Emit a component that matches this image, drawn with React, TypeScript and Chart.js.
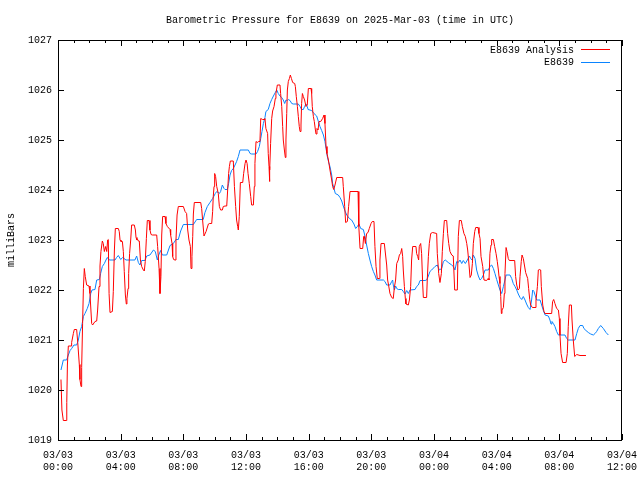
import React, { useEffect, useRef } from "react";
import { Chart, registerables } from "chart.js";

Chart.register(...registerables);

const TITLE = "Barometric Pressure for E8639 on 2025-Mar-03 (time in UTC)";
const Y_LABEL = "milliBars";
const FONT = "'Liberation Mono', 'DejaVu Sans Mono', monospace";

// hours since 03/03 00:00 UTC
const analysisHours = [
  0.19, 0.25, 0.34, 0.55, 0.56, 0.6, 0.66, 0.83, 0.87, 0.98, 1.04, 1.19, 1.26, 1.36, 1.4, 1.47, 1.51, 1.57, 1.62, 1.68,
  1.74, 1.83, 1.98, 2.04, 2.15, 2.21, 2.36, 2.47, 2.53, 2.62, 2.68, 2.74, 2.83, 2.89, 2.96, 3.04, 3.11, 3.17, 3.21, 3.26,
  3.32, 3.47, 3.53, 3.6, 3.66, 3.85, 3.91, 3.96, 4.02, 4.11, 4.17, 4.23, 4.3, 4.36, 4.4, 4.47, 4.51, 4.57, 4.64, 4.7,
  4.87, 4.94, 4.98, 5.04, 5.09, 5.13, 5.19, 5.26, 5.34, 5.45, 5.51, 5.57, 5.64, 5.7, 5.81, 5.87, 5.94, 6.02, 6.3, 6.36,
  6.45, 6.51, 6.57, 6.62, 6.68, 6.83, 6.89, 6.98, 7.15, 7.19, 7.28, 7.32, 7.38, 7.47, 7.53, 7.6, 7.68, 8.0, 8.11, 8.21,
  8.28, 8.36, 8.45, 8.49, 8.55, 8.6, 8.64, 8.7, 9.11, 9.17, 9.23, 9.32, 9.45, 9.6, 9.66, 9.81, 9.87, 9.91, 9.96, 10.0,
  10.06, 10.13, 10.23, 10.3, 10.38, 10.49, 10.55, 10.66, 10.77, 10.83, 10.89, 10.94, 11.0, 11.19, 11.26, 11.34, 11.4, 11.47, 11.51, 11.57,
  11.64, 11.79, 11.85, 11.94, 12.0, 12.07, 12.13, 12.21, 12.3, 12.36, 12.47, 12.53, 12.57, 12.64, 12.72, 12.81, 12.89, 12.94, 13.06, 13.15,
  13.21, 13.27, 13.38, 13.42, 13.47, 13.49, 13.53, 13.57, 13.64, 13.7, 13.79, 13.87, 13.91, 14.0, 14.17, 14.21, 14.28, 14.34, 14.38, 14.45,
  14.51, 14.55, 14.6, 14.64, 14.7, 14.77, 14.83, 14.9, 14.98, 15.11, 15.15, 15.21, 15.28, 15.34, 15.4, 15.45, 15.51, 15.55, 15.6, 15.66,
  15.74, 15.83, 15.91, 15.98, 16.15, 16.19, 16.23, 16.3, 16.36, 16.43, 16.47, 16.53, 16.6, 16.66, 16.77, 16.83, 16.89, 16.98, 17.04, 17.11,
  17.17, 17.26, 17.36, 17.47, 17.53, 17.6, 17.68, 17.79, 18.17, 18.21, 18.3, 18.36, 18.47, 18.55, 18.64, 19.15, 19.19, 19.21, 19.28, 19.45,
  19.51, 19.55, 19.62, 19.7, 19.79, 19.87, 19.98, 20.06, 20.17, 20.23, 20.3, 20.38, 20.51, 20.55, 20.62, 20.83, 20.91, 20.98, 21.04, 21.11,
  21.19, 21.3, 21.4, 21.47, 21.55, 21.62, 21.72, 21.79, 21.87, 21.94, 22.0, 22.04, 22.11, 22.17, 22.21, 22.36, 22.43, 22.51, 22.57, 22.64,
  22.85, 22.89, 22.96, 23.02, 23.06, 23.15, 23.21, 23.28, 23.32, 23.53, 23.57, 23.64, 23.7, 23.79, 23.91, 24.17, 24.21, 24.3, 24.38, 24.47,
  24.53, 24.6, 24.66, 24.81, 24.87, 24.94, 25.02, 25.13, 25.23, 25.32, 25.49, 25.55, 25.62, 25.74, 25.81, 25.91, 26.0, 26.09, 26.15, 26.21,
  26.3, 26.38, 26.45, 26.51, 26.6, 26.66, 26.81, 26.87, 26.94, 27.0, 27.11, 27.19, 27.36, 27.45, 27.51, 27.57, 27.64, 27.68, 27.79, 27.87,
  27.96, 28.04, 28.11, 28.15, 28.21, 28.26, 28.3, 28.34, 28.43, 28.49, 28.53, 28.6, 28.66, 28.74, 28.81, 29.15, 29.21, 29.28, 29.36, 29.45,
  29.49, 29.57, 29.62, 29.7, 29.77, 29.85, 29.98, 30.04, 30.11, 30.17, 30.28, 30.45, 30.51, 30.6, 30.66, 30.72, 30.81, 30.85, 30.94, 31.02,
  31.09, 31.51, 31.57, 31.64, 31.72, 31.83, 31.94, 32.0, 32.04, 32.11, 32.21, 32.43, 32.51, 32.57, 32.64, 32.77, 32.81, 32.89, 32.98, 33.11,
  33.32, 33.7,
];

const analysisValues = [
  1020.21, 1019.6, 1019.39, 1019.39, 1019.75, 1020.5, 1020.88, 1020.88, 1020.95, 1021.13, 1021.21, 1021.21, 1020.95, 1020.51, 1020.21, 1020.07, 1020.45, 1021.33, 1022.03, 1022.43,
  1022.27, 1022.1, 1022.08, 1021.93, 1021.33, 1021.3, 1021.37, 1021.38, 1021.6, 1022.07, 1022.48, 1022.77, 1022.98, 1022.93, 1022.77, 1022.87, 1022.77, 1023.0, 1023.01, 1021.93,
  1021.55, 1021.57, 1021.97, 1022.8, 1023.23, 1023.23, 1023.17, 1023.0, 1022.97, 1022.97, 1022.77, 1022.37, 1021.9, 1021.72, 1021.83, 1022.03, 1022.33, 1022.73, 1023.0, 1023.3,
  1023.3, 1023.2, 1023.05, 1023.0, 1023.01, 1022.98, 1022.98, 1022.6, 1022.47, 1022.4, 1022.38, 1022.57, 1023.03, 1023.39, 1023.39, 1023.2, 1023.11, 1023.1, 1023.1, 1022.87,
  1022.43, 1021.93, 1022.27, 1023.1, 1023.47, 1023.47, 1023.33, 1023.27, 1023.21, 1023.1, 1022.93, 1022.67, 1022.61, 1022.6, 1023.0, 1023.5, 1023.67, 1023.67, 1023.57, 1023.53,
  1023.2, 1023.0, 1022.87, 1022.43, 1022.67, 1023.07, 1023.52, 1023.75, 1023.75, 1023.63, 1023.4, 1023.08, 1023.17, 1023.32, 1023.33, 1023.33, 1023.57, 1023.87, 1024.07, 1024.33,
  1024.27, 1024.07, 1023.93, 1023.67, 1023.6, 1023.6, 1023.67, 1023.68, 1023.68, 1024.0, 1024.33, 1024.47, 1024.58, 1024.58, 1024.07, 1023.67, 1023.4, 1023.27, 1023.2, 1023.47,
  1024.15, 1024.15, 1024.33, 1024.53, 1024.6, 1024.53, 1024.33, 1024.13, 1023.87, 1023.7, 1023.7, 1024.07, 1024.53, 1024.97, 1024.95, 1024.97, 1024.97, 1025.43, 1025.41, 1025.41,
  1025.43, 1025.23, 1025.13, 1024.73, 1024.47, 1024.17, 1024.4, 1024.93, 1025.43, 1025.58, 1025.67, 1025.83, 1025.93, 1026.1, 1026.1, 1025.93, 1025.67, 1025.27, 1025.0, 1024.8,
  1024.65, 1025.0, 1025.53, 1026.0, 1026.17, 1026.23, 1026.3, 1026.23, 1026.15, 1026.13, 1026.07, 1025.87, 1025.67, 1025.47, 1025.27, 1025.17, 1025.3, 1025.73, 1025.93, 1025.87,
  1025.8, 1025.67, 1025.7, 1026.03, 1026.03, 1025.93, 1025.67, 1025.47, 1025.37, 1025.2, 1025.12, 1025.23, 1025.2, 1025.37, 1025.37, 1025.4, 1025.43, 1025.5, 1025.33, 1024.87,
  1024.73, 1024.6, 1024.4, 1024.2, 1024.07, 1024.01, 1024.1, 1024.25, 1024.25, 1024.07, 1023.67, 1023.35, 1023.37, 1023.67, 1023.97, 1023.97, 1023.67, 1023.27, 1022.83, 1022.83,
  1023.07, 1023.08, 1022.93, 1023.13, 1023.15, 1023.23, 1023.33, 1023.37, 1023.37, 1022.87, 1022.47, 1022.23, 1022.23, 1022.6, 1022.93, 1022.93, 1022.7, 1022.5, 1022.2, 1022.08,
  1021.93, 1021.85, 1021.83, 1022.05, 1022.2, 1022.53, 1022.6, 1022.7, 1022.73, 1022.83, 1022.67, 1022.4, 1022.07, 1021.83, 1021.72, 1021.7, 1021.8, 1022.07, 1022.6, 1022.87,
  1022.87, 1022.73, 1022.67, 1022.6, 1022.87, 1022.93, 1022.73, 1022.1, 1021.85, 1021.85, 1022.2, 1022.67, 1022.93, 1023.13, 1023.15, 1023.13, 1022.73, 1022.33, 1022.15, 1022.33,
  1022.77, 1023.13, 1023.39, 1023.39, 1023.13, 1022.93, 1022.77, 1022.7, 1022.68, 1022.0, 1022.0, 1023.07, 1023.39, 1023.39, 1023.27, 1023.13, 1023.07, 1022.93, 1022.8, 1022.6,
  1022.25, 1022.3, 1022.53, 1022.93, 1023.17, 1023.25, 1023.25, 1023.13, 1023.03, 1022.67, 1022.47, 1022.2, 1022.19, 1022.23, 1022.2, 1022.73, 1022.9, 1023.01, 1023.01, 1022.87,
  1022.73, 1022.57, 1022.4, 1022.27, 1022.13, 1021.87, 1021.53, 1021.6, 1021.65, 1021.93, 1022.33, 1022.85, 1022.77, 1022.63, 1022.59, 1022.59, 1022.27, 1022.1, 1022.0, 1022.03,
  1022.27, 1022.57, 1022.7, 1022.63, 1022.5, 1022.35, 1022.23, 1022.03, 1021.81, 1021.7, 1021.65, 1021.65, 1021.8, 1022.07, 1022.4, 1022.41, 1022.4, 1022.07, 1021.7, 1021.57,
  1021.53, 1021.53, 1021.77, 1021.81, 1021.73, 1021.63, 1021.6, 1021.43, 1021.1, 1020.73, 1020.55, 1020.55, 1020.73, 1021.27, 1021.7, 1021.7, 1021.4, 1021.0, 1020.67, 1020.71,
  1020.69, 1020.69,
];

const observedHours = [
  0.19, 0.34, 0.55, 0.66, 0.77, 0.87, 1.02, 1.19, 1.3, 1.4, 1.51, 1.62, 1.72, 1.87, 1.98, 2.09, 2.17, 2.36, 2.47, 2.64,
  2.72, 2.83, 2.96, 3.06, 3.15, 3.28, 3.64, 3.74, 3.85, 4.0, 4.13, 4.34, 4.91, 5.02, 5.13, 5.23, 5.34, 5.55, 5.66, 5.87,
  6.09, 6.21, 6.34, 6.43, 6.55, 6.66, 6.94, 7.15, 7.36, 7.53, 7.68, 7.83, 8.0, 8.64, 8.85, 9.27, 9.38, 9.53, 9.7, 9.87,
  10.04, 10.13, 10.23, 10.3, 10.38, 10.49, 10.6, 10.66, 10.81, 10.89, 10.98, 11.08, 11.19, 11.3, 11.4, 11.51, 11.62, 12.15, 12.26, 12.36,
  12.64, 12.74, 12.85, 12.94, 13.02, 13.11, 13.21, 13.27, 13.42, 13.53, 13.64, 13.75, 13.87, 13.96, 14.06, 14.17, 14.28, 14.38, 14.47, 14.55,
  14.64, 14.7, 14.81, 14.92, 15.02, 15.34, 15.45, 15.55, 15.66, 15.74, 15.83, 15.91, 15.96, 16.19, 16.34, 16.51, 16.62, 16.72, 16.83, 16.94,
  17.04, 17.11, 17.19, 17.28, 17.36, 17.47, 17.53, 17.62, 17.7, 17.89, 18.0, 18.11, 18.21, 18.32, 18.43, 18.6, 18.74, 18.89, 19.0, 19.11,
  19.21, 19.32, 19.49, 19.6, 19.7, 19.81, 19.91, 20.02, 20.13, 20.23, 20.34, 20.77, 20.87, 20.98, 21.19, 21.3, 21.36, 21.4, 21.47, 21.55,
  21.62, 21.72, 21.94, 22.04, 22.15, 22.26, 22.36, 22.47, 22.79, 22.89, 23.0, 23.11, 23.43, 23.53, 23.64, 23.74, 23.85, 24.06, 24.21, 24.34,
  24.49, 24.6, 24.72, 24.91, 25.13, 25.23, 25.34, 25.45, 25.55, 25.66, 25.77, 25.87, 26.0, 26.13, 26.26, 26.34, 26.43, 26.51, 26.62, 26.72,
  26.83, 26.94, 27.04, 27.15, 27.26, 27.47, 27.57, 27.68, 27.79, 27.89, 28.0, 28.11, 28.21, 28.32, 28.43, 28.53, 28.6, 28.85, 28.96, 29.06,
  29.17, 29.28, 29.38, 29.49, 29.6, 29.7, 29.81, 29.91, 30.02, 30.13, 30.23, 30.3, 30.38, 30.45, 30.55, 30.77, 30.87, 30.98, 31.09, 31.3,
  31.4, 31.47, 31.53, 31.62, 31.72, 31.83, 31.94, 32.36, 32.47, 32.57, 33.0, 33.11, 33.21, 33.32, 33.49, 33.57, 33.7, 33.85, 34.0, 34.17,
  34.28, 34.38, 34.49, 34.64, 34.81, 34.98, 35.13,
];

const observedValues = [
  1020.4, 1020.6, 1020.6, 1020.7, 1020.79, 1020.83, 1020.9, 1020.9, 1021.0, 1021.17, 1021.27, 1021.47, 1021.53, 1021.63, 1021.73, 1021.93, 1022.0, 1022.01, 1022.2, 1022.21,
  1022.33, 1022.47, 1022.53, 1022.6, 1022.65, 1022.6, 1022.6, 1022.65, 1022.69, 1022.61, 1022.65, 1022.6, 1022.6, 1022.68, 1022.55, 1022.5, 1022.59, 1022.59, 1022.68, 1022.7,
  1022.8, 1022.77, 1022.6, 1022.7, 1022.79, 1022.7, 1022.7, 1022.89, 1022.93, 1023.01, 1023.01, 1023.18, 1023.31, 1023.31, 1023.41, 1023.41, 1023.55, 1023.67, 1023.75, 1023.83,
  1023.93, 1023.97, 1023.95, 1023.93, 1023.97, 1024.1, 1024.03, 1024.01, 1024.01, 1024.13, 1024.3, 1024.39, 1024.43, 1024.5, 1024.57, 1024.67, 1024.8, 1024.8, 1024.73, 1024.72,
  1024.72, 1024.77, 1024.87, 1025.03, 1025.17, 1025.33, 1025.45, 1025.57, 1025.61, 1025.73, 1025.81, 1025.88, 1025.95, 1026.0, 1025.93, 1025.88, 1025.85, 1025.8, 1025.73, 1025.8,
  1025.79, 1025.81, 1025.79, 1025.73, 1025.72, 1025.72, 1025.67, 1025.61, 1025.61, 1025.67, 1025.72, 1025.67, 1025.61, 1025.59, 1025.53, 1025.48, 1025.37, 1025.27, 1025.19, 1025.1,
  1024.97, 1024.83, 1024.67, 1024.55, 1024.47, 1024.3, 1024.13, 1024.03, 1023.93, 1023.9, 1023.85, 1023.78, 1023.68, 1023.58, 1023.5, 1023.43, 1023.4, 1023.32, 1023.23, 1023.27,
  1023.32, 1023.23, 1023.21, 1023.07, 1022.9, 1022.73, 1022.6, 1022.47, 1022.37, 1022.3, 1022.2, 1022.2, 1022.17, 1022.1, 1022.1, 1022.17, 1022.2, 1022.1, 1022.0, 1022.08,
  1022.03, 1022.01, 1022.01, 1021.97, 1021.92, 1021.99, 1021.93, 1022.0, 1022.01, 1022.07, 1022.1, 1022.19, 1022.19, 1022.2, 1022.28, 1022.37, 1022.4, 1022.47, 1022.5, 1022.4,
  1022.43, 1022.57, 1022.6, 1022.55, 1022.5, 1022.47, 1022.4, 1022.57, 1022.55, 1022.6, 1022.53, 1022.59, 1022.53, 1022.6, 1022.68, 1022.63, 1022.6, 1022.7, 1022.63, 1022.4,
  1022.28, 1022.2, 1022.23, 1022.3, 1022.4, 1022.4, 1022.47, 1022.5, 1022.43, 1022.33, 1022.21, 1022.1, 1022.0, 1021.93, 1022.07, 1022.2, 1022.3, 1022.3, 1022.23, 1022.13,
  1022.07, 1022.0, 1021.92, 1021.85, 1021.81, 1021.87, 1021.8, 1021.72, 1021.65, 1021.61, 1021.8, 1022.0, 1021.97, 1021.9, 1021.8, 1021.8, 1021.7, 1021.59, 1021.5, 1021.48,
  1021.4, 1021.32, 1021.37, 1021.33, 1021.27, 1021.17, 1021.1, 1021.1, 1021.03, 1021.0, 1021.0, 1021.13, 1021.23, 1021.29, 1021.29, 1021.23, 1021.19, 1021.15, 1021.12, 1021.1,
  1021.13, 1021.17, 1021.23, 1021.29, 1021.23, 1021.15, 1021.1,
];

const seriesLabels = ["E8639 Analysis", "E8639"];
const seriesColors = ["#ff0000", "#0a84ff"];

const X_MIN = 0;
const X_MAX = 36;
const X_STEP = 4;
const Y_MIN = 1019;
const Y_MAX = 1027;
const Y_STEP = 1;
const dayLabels = ["03/03", "03/04"];

function hourLabel(h: number): string[] {
  const day = dayLabels[Math.floor(h / 24)] ?? "";
  const hh = String(Math.round(h) % 24).padStart(2, "0");
  return [day, `${hh}:00`];
}

const framePlugin = {
  id: "gnuFrame",
  afterDraw(chart: any) {
    const { ctx, chartArea } = chart;
    const { left, right, top, bottom } = chartArea;
    const xs = chart.scales.x;
    const ys = chart.scales.y;
    ctx.save();
    ctx.strokeStyle = "#000";
    ctx.lineWidth = 1;
    ctx.beginPath();
    // inward ticks on x (major every 4h, minor every hour)
    for (let h = X_MIN; h <= X_MAX; h += 1) {
      const px = Math.round(xs.getPixelForValue(h)) + 0.5;
      const len = h % X_STEP === 0 ? 6 : 3;
      ctx.moveTo(px, bottom);
      ctx.lineTo(px, bottom - len);
      ctx.moveTo(px, top);
      ctx.lineTo(px, top + len);
    }
    for (let v = Y_MIN; v <= Y_MAX; v += Y_STEP) {
      const py = Math.round(ys.getPixelForValue(v)) + 0.5;
      ctx.moveTo(left, py);
      ctx.lineTo(left + 6, py);
      ctx.moveTo(right, py);
      ctx.lineTo(right - 6, py);
    }
    ctx.stroke();
    ctx.strokeRect(Math.round(left) + 0.5, Math.round(top) + 0.5, Math.round(right - left) - 1, Math.round(bottom - top));

    ctx.fillStyle = "#000";
    ctx.font = `10px ${FONT}`;
    ctx.textBaseline = "middle";
    ctx.textAlign = "center";
    ctx.fillText(TITLE, (left + right) / 2, 20);

    // legend (top right, inside)
    ctx.textAlign = "right";
    chart.data.datasets.forEach((ds: any, i: number) => {
      const y = 50 + i * 12.5;
      ctx.fillStyle = "#000";
      ctx.fillText(ds.label, right - 48, y);
      ctx.strokeStyle = ds.borderColor;
      ctx.beginPath();
      ctx.moveTo(right - 41, Math.round(y) - 0.5);
      ctx.lineTo(right - 12, Math.round(y) - 0.5);
      ctx.stroke();
    });

    // y-axis label
    ctx.save();
    ctx.translate(11, (top + bottom) / 2);
    ctx.rotate(-Math.PI / 2);
    ctx.textAlign = "center";
    ctx.fillStyle = "#000";
    ctx.fillText(Y_LABEL, 0, 0);
    ctx.restore();
    ctx.restore();
  },
};

export default function App() {
  const canvasRef = useRef<HTMLCanvasElement | null>(null);

  useEffect(() => {
    document.body.style.margin = "0";
    const canvas = canvasRef.current;
    if (!canvas) return;
    const chart = new Chart(canvas, {
      type: "line",
      data: {
        datasets: [
          {
            label: seriesLabels[0],
            data: analysisHours.map((h, i) => ({ x: h, y: analysisValues[i] })),
            borderColor: seriesColors[0],
            backgroundColor: seriesColors[0],
            borderWidth: 1,
            pointRadius: 0,
            tension: 0,
            fill: false,
          },
          {
            label: seriesLabels[1],
            data: observedHours.map((h, i) => ({ x: h, y: observedValues[i] })),
            borderColor: seriesColors[1],
            backgroundColor: seriesColors[1],
            borderWidth: 1,
            pointRadius: 0,
            tension: 0,
            fill: false,
          },
        ],
      },
      options: {
        animation: false,
        responsive: false,
        maintainAspectRatio: false,
        devicePixelRatio: 1,
        layout: { padding: { top: 40, right: 18, left: 0, bottom: 0 } },
        plugins: {
          legend: { display: false },
          title: { display: false },
          tooltip: { enabled: false },
        },
        scales: {
          x: {
            type: "linear",
            min: X_MIN,
            max: X_MAX,
            grid: { display: false, drawTicks: false },
            border: { display: false },
            afterFit: (s: any) => {
              s.height = 40;
              s.paddingLeft = 0;
              s.paddingRight = 0;
            },
            ticks: {
              stepSize: X_STEP,
              autoSkip: false,
              maxRotation: 0,
              minRotation: 0,
              padding: 9,
              color: "#000",
              font: { family: FONT, size: 10, lineHeight: 1.25 },
              callback: (v: any) => hourLabel(Number(v)),
            },
          },
          y: {
            type: "linear",
            min: Y_MIN,
            max: Y_MAX,
            grid: { display: false, drawTicks: false },
            border: { display: false },
            afterFit: (s: any) => {
              s.width = 58;
              s.paddingTop = 0;
              s.paddingBottom = 0;
            },
            ticks: {
              stepSize: Y_STEP,
              padding: 6,
              color: "#000",
              font: { family: FONT, size: 10 },
              callback: (v: any) => String(v),
            },
          },
        },
      },
      plugins: [framePlugin],
    });
    return () => chart.destroy();
  }, []);

  return (
    <div style={{ position: "absolute", left: 0, top: 0, width: 640, height: 480, background: "#fff" }}>
      <canvas ref={canvasRef} width={640} height={480} style={{ width: 640, height: 480 }} />
    </div>
  );
}
